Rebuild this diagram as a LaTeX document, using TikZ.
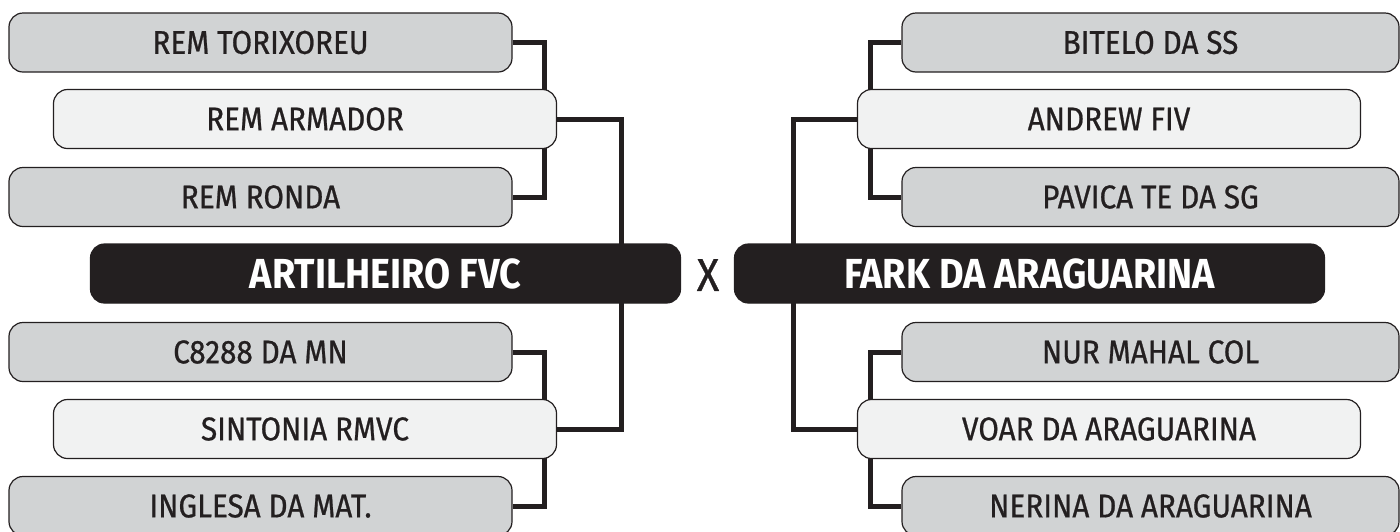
\documentclass[tikz,border=0pt]{standalone}
\usepackage{fontspec}
\setmainfont{Fira Sans}[FakeStretch = 0.9, UprightFeatures = {FakeBold = 0.7}]
\usepackage{tikz}
\usetikzlibrary{positioning,backgrounds}
\definecolor{boxgray}{HTML}{D1D3D4}
\definecolor{boxlight}{HTML}{F1F2F2}
\definecolor{boxdark}{HTML}{231F20}

\begin{document}
\begin{tikzpicture}[x = 1pt, y = -1pt,
	team/.style = {draw = boxdark, line width = 1.2pt, rounded corners = 14pt, fill = boxgray, text = boxdark, inner sep = 0pt, minimum height = 59pt, font = \fontsize{33}{36}\selectfont},
	seed/.style = {team, minimum width = 503pt},
	pick/.style = {team, fill = boxlight, minimum width = 503pt},
	final/.style = {team, fill = boxdark, text = white, minimum width = 590pt, font = \fontsize{42}{46}\selectfont\bfseries},
	link/.style = {draw = boxdark, line width = 5pt}]
	\useasboundingbox (0,0) rectangle (1400,531);
	% left bracket
	\node[seed] (torixoreu) at (260.5,42.5) {REM TORIXOREU};
	\node[pick] (armador) at (305,119) {REM ARMADOR};
	\node[seed] (ronda) at (260.5,197) {REM RONDA};
	\node[final] (artilheiro) at (385.5,273.5) {ARTILHEIRO FVC};
	\node[seed] (c8288) at (260.5,352) {C8288 DA MN};
	\node[pick] (sintonia) at (305,429) {SINTONIA RMVC};
	\node[seed] (inglesa) at (260.5,506) {INGLESA DA MAT.};
	% right bracket
	\node[seed, minimum width = 497pt] (bitelo) at (1150.5,42.5) {BITELO DA SS};
	\node[pick] (andrew) at (1109,119) {ANDREW FIV};
	\node[seed, minimum width = 497pt] (pavica) at (1150.5,197) {PAVICA TE DA SG};
	\node[final] (fark) at (1029.5,273.5) {FARK DA ARAGUARINA};
	\node[seed, minimum width = 497pt] (nur) at (1150.5,352) {NUR MAHAL COL};
	\node[pick] (voar) at (1109,429) {VOAR DA ARAGUARINA};
	\node[seed, minimum width = 497pt] (nerina) at (1150.5,506) {NERINA DA ARAGUARINA};
	\node[text = boxdark, font = \fontsize{46}{50}\selectfont] (versus) at (708,275) {X};
	\begin{pgfonlayer}{background}
		\draw[link] (torixoreu.east) -- ++(32,0) |- (ronda.east);
		\draw[link] (c8288.east) -- ++(32,0) |- (inglesa.east);
		\draw[link] (armador.east) -- ++(64,0) |- (sintonia.east);
		\draw[link] (bitelo.west) -- ++(-31,0) |- (pavica.west);
		\draw[link] (nur.west) -- ++(-31,0) |- (nerina.west);
		\draw[link] (andrew.west) -- ++(-63,0) |- (voar.west);
	\end{pgfonlayer}
\end{tikzpicture}
\end{document}
